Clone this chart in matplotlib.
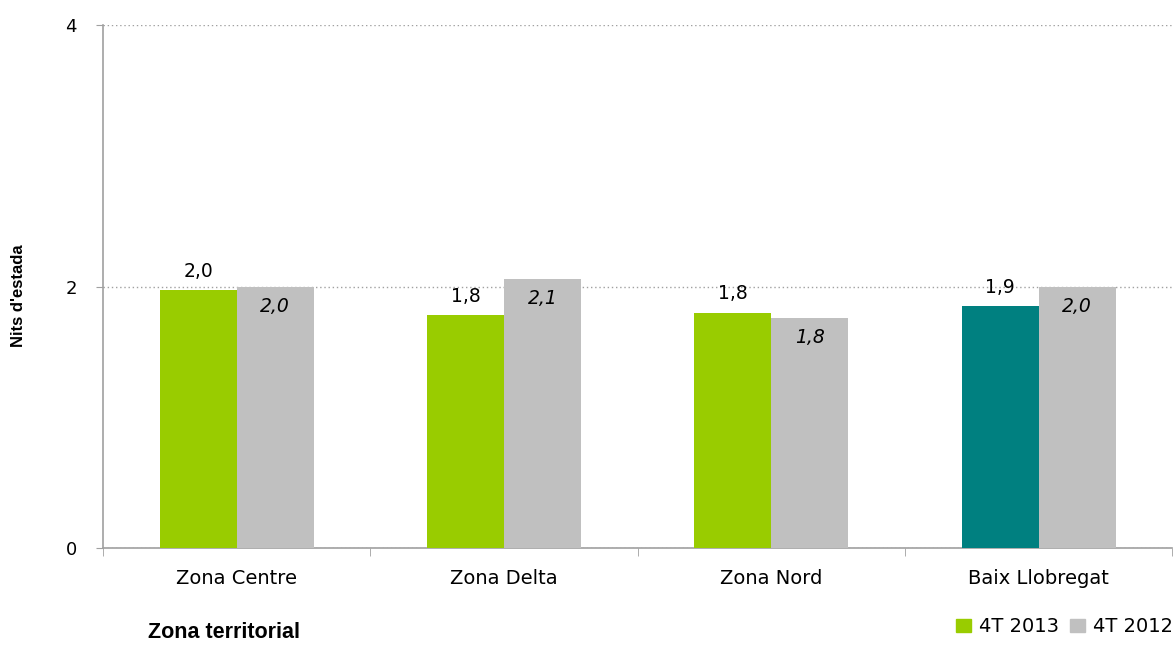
import matplotlib.pyplot as plt
import numpy as np

plt.rcParams['font.family'] = ['DejaVu Sans']

categories = ["Zona Centre", "Zona Delta", "Zona Nord", "Baix Llobregat"]
vals_2013 = [1.97, 1.78, 1.80, 1.85]
vals_2012 = [2.00, 2.06, 1.76, 2.00]
labels_2013 = ["2,0", "1,8", "1,8", "1,9"]
labels_2012 = ["2,0", "2,1", "1,8", "2,0"]
colors_2013 = ["#99CC00", "#99CC00", "#99CC00", "#008080"]

fig = plt.figure(figsize=(11.75, 6.46), dpi=100)
ax = fig.add_axes([0.0877, 0.1517, 0.91, 0.8096])

x = np.arange(len(categories))
w = 0.288
ax.bar(x - w / 2, vals_2013, w, color=colors_2013, zorder=3)
ax.bar(x + w / 2, vals_2012, w, color="#C0C0C0", zorder=3)

for xi, v, lab in zip(x, vals_2013, labels_2013):
    ax.text(xi - w / 2, v + 0.07, lab, ha="center", va="bottom", fontsize=13.5)
for xi, v, lab in zip(x, vals_2012, labels_2012):
    ax.text(xi + w / 2, v - 0.08, lab, ha="center", va="top", fontsize=13.5,
            style="italic")

ax.set_xlim(-0.5, 3.5)
ax.set_ylim(0, 4)
ax.set_yticks([0, 2, 4])
ax.set_yticklabels(["0", "2", "4"], fontsize=13)
ax.set_xticks(x)
ax.set_xticklabels(categories, fontsize=14)
ax.set_xticks(np.arange(-0.5, 4, 1), minor=True)
ax.tick_params(axis="x", which="major", length=0, pad=15)
ax.tick_params(axis="x", which="minor", length=6, color="#A0A0A0", direction="out")
ax.tick_params(axis="y", length=5, color="#A0A0A0", pad=14)

ax.grid(axis="y", linestyle=(0, (1, 2)), color="#A0A0A0", linewidth=1, zorder=0)
for s in ["top", "right"]:
    ax.spines[s].set_visible(False)
for s in ["left", "bottom"]:
    ax.spines[s].set_color("#A0A0A0")
    ax.spines[s].set_linewidth(1.2)

fig.text(0.0155, 0.543, "Nits d'estada", rotation=90, ha="center", va="center",
         fontsize=12, fontweight="bold", family=["Liberation Sans"])
fig.text(0.126, 0.004, "Zona territorial", fontsize=15.5, fontweight="bold",
         va="bottom", family=["Liberation Sans"])

handles = [plt.Rectangle((0, 0), 1, 1, color="#99CC00"),
           plt.Rectangle((0, 0), 1, 1, color="#C0C0C0")]
fig.legend(handles, ["4T 2013", "4T 2012"], loc="lower right",
           bbox_to_anchor=(1.013, -0.012), ncol=2, frameon=False, fontsize=14,
           handlelength=0.75, handleheight=0.6, handletextpad=0.4,
           columnspacing=0.6)

fig.savefig("out.png", dpi=100)
